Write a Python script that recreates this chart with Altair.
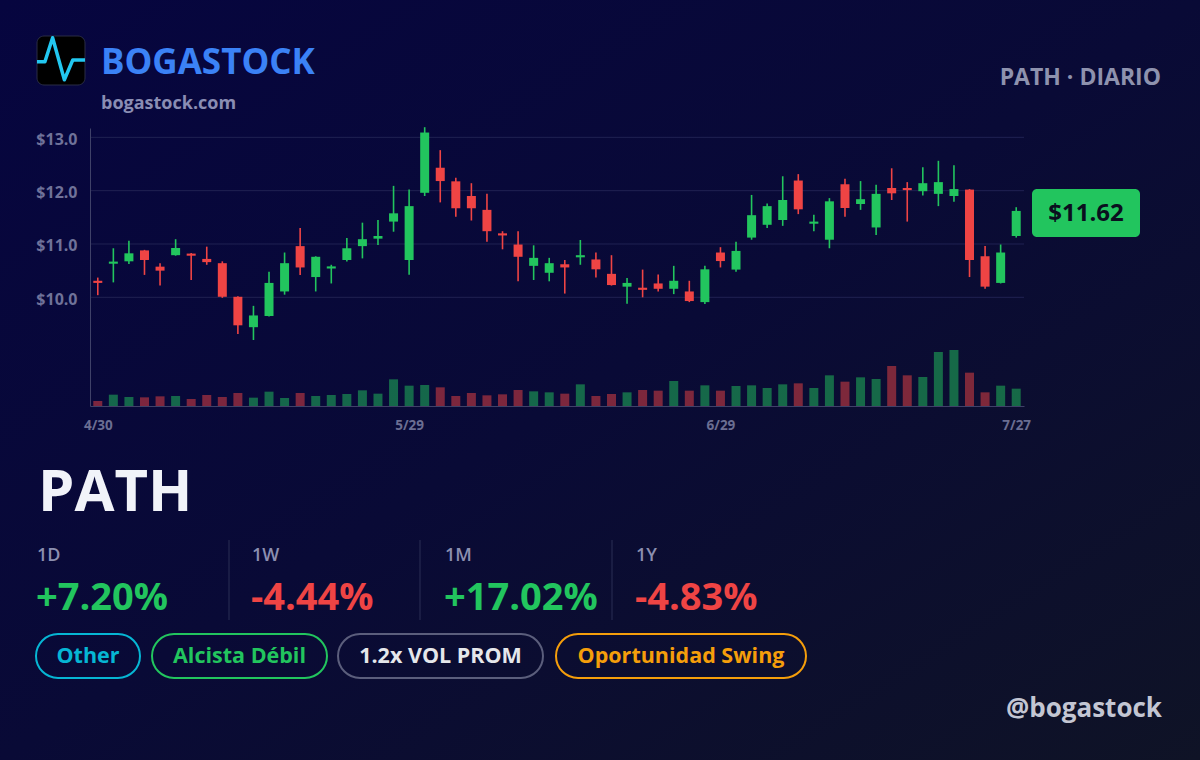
import altair as alt
import pandas as pd

# ---------------- data ----------------
date_idx = [0, 20, 40, 59]
date_labels = ["4/30", "5/29", "6/29", "7/27"]

opens = [10.31, 10.63, 10.675, 10.88, 10.575, 10.79, 10.82, 10.72, 10.64, 10.01, 9.44, 9.65,
         10.11, 10.96, 10.38, 10.54, 10.70, 10.96, 11.10, 11.42, 10.70, 11.96, 12.43, 12.175, 11.90, 11.64, 11.20, 10.99,
         10.59, 10.46, 10.62, 10.75, 10.71, 10.44, 10.20, 10.18, 10.26, 10.16, 10.11, 9.91, 10.84, 10.52, 11.12,
         11.36, 11.45, 12.19, 11.38, 11.08, 12.12, 11.75, 11.31, 12.05, 12.05, 11.99, 11.94, 11.90, 12.02, 10.77, 10.27, 11.15]
closes = [10.27, 10.67, 10.825, 10.70, 10.50, 10.925, 10.78, 10.66, 10.01, 9.475, 9.66, 10.27,
          10.64, 10.56, 10.76, 10.58, 10.92, 11.09, 11.15, 11.575, 11.71, 13.09, 12.18, 11.67, 11.67, 11.24, 11.16, 10.76,
          10.74, 10.64, 10.56, 10.79, 10.525, 10.23, 10.27, 10.14, 10.16, 10.31, 9.93, 10.525, 10.68, 10.87, 11.54,
          11.71, 11.825, 11.65, 11.42, 11.80, 11.675, 11.84, 11.94, 11.95, 12.01, 12.14, 12.16, 12.03, 10.70, 10.20, 10.84, 11.62]
highs = [10.37, 10.92, 11.06, 10.89, 10.64, 11.09, 10.83, 10.95, 10.675, 10.02, 9.84, 10.48,
         10.84, 11.30, 10.77, 10.61, 11.11, 11.40, 11.45, 12.09, 12.02, 13.19, 12.76, 12.24, 12.14, 11.94, 11.24, 11.24,
         10.975, 10.74, 10.70, 11.075, 10.84, 10.79, 10.36, 10.52, 10.43, 10.59, 10.31, 10.59, 10.94, 11.04, 11.92,
         11.76, 12.27, 12.31, 11.55, 11.86, 12.225, 12.18, 12.11, 12.42, 12.16, 12.44, 12.56, 12.475, 12.03, 10.96, 10.99, 11.69]
lows = [10.04, 10.28, 10.625, 10.42, 10.22, 10.78, 10.325, 10.61, 9.99, 9.31, 9.20, 9.64,
        10.05, 10.42, 10.11, 10.26, 10.67, 10.73, 10.98, 11.23, 10.425, 11.90, 11.78, 11.51, 11.44, 11.04, 10.90, 10.30,
        10.325, 10.30, 10.07, 10.61, 10.37, 10.22, 9.88, 10.00, 10.11, 10.06, 9.91, 9.875, 10.56, 10.48, 11.08,
        11.30, 11.34, 11.56, 11.24, 10.92, 11.51, 11.64, 11.17, 11.825, 11.42, 11.91, 11.71, 11.79, 10.38, 10.16, 10.26, 11.12]
volumes = [1.5, 3.4, 2.7, 2.6, 2.9, 3.0, 2.1, 3.3, 2.7, 3.9, 2.5, 4.3,
           2.4, 3.9, 3.0, 3.3, 3.6, 4.7, 3.7, 8.0, 6.1, 6.3, 5.6, 3.0, 3.9, 3.2, 3.5, 4.8,
           4.4, 4.1, 3.7, 6.5, 3.0, 3.6, 4.1, 4.8, 4.6, 7.5, 4.6, 6.2, 4.6, 6.0, 6.2,
           5.4, 6.5, 6.8, 5.4, 9.2, 7.3, 8.6, 8.1, 12.0, 9.2, 8.7, 16.2, 16.8, 10.0, 4.1, 6.1, 5.2]
grid_levels = [10, 11, 12, 13]

ticker = "PATH"
brand = "BOGASTOCK"
site = "bogastock.com"
handle = "@bogastock"
period_label = "PATH · DIARIO"
stat_labels = ["1D", "1W", "1M", "1Y"]
stat_values = [7.20, -4.44, 17.02, -4.83]
pill_labels = ["Other", "Alcista Débil", "1.2x VOL PROM", "Oportunidad Swing"]

# ---------------- style / layout ----------------
FONT = "Open Sans"
GREEN = "#22c55e"
RED = "#ef4444"
OX, OY = 90, 128
W, H = 934, 278

pill_text_colors = ["#06b6d4", GREEN, "#e5e7eb", "#f59e0b"]
pill_border_colors = ["#06b6d4", GREEN, "#5b5e7c", "#f59e0b"]
pill_x0 = [36, 152, 338, 556]
pill_x1 = [140, 327, 543, 806]
stat_x = [37, 252, 445, 636]
divider_x = [229, 420, 612]

df = pd.DataFrame({"i": list(range(len(opens))), "o": opens, "h": highs,
                   "l": lows, "c": closes, "v": volumes})
one = pd.DataFrame({"k": [0]})


def px(x):
    return alt.value(x - OX)


def py(y):
    return alt.value(y - OY)


xs = alt.Scale(domain=[-0.5, 59.5], nice=False, zero=False, padding=0)
ps = alt.Scale(domain=[7.962, 13.175], nice=False, zero=False, padding=0)
vs = alt.Scale(domain=[0, 83.4], nice=False, zero=True, padding=0)

label_expr = ""
for k, lab in zip(date_idx[:-1], date_labels[:-1]):
    label_expr += f"datum.value == {k} ? '{lab}' : "
label_expr += f"'{date_labels[-1]}'"

x_axis = alt.Axis(values=date_idx, labelExpr=label_expr, labelFont=FONT, labelFontWeight="bold",
                  labelFontSize=13.5, labelColor="#6b6e92", labelPadding=12, ticks=False, grid=False,
                  domainColor="#3f4168", domainWidth=1, title=None, zindex=1, labelFlush=False)
y_axis = alt.Axis(values=grid_levels, format="$.1f", labelFont=FONT, labelFontWeight="bold",
                  labelFontSize=16, labelColor="#6f7299", labelPadding=13, labelOffset=2, ticks=False,
                  grid=False, domainColor="#3f4168", domainWidth=1, title=None, zindex=1)

color_cond = alt.condition("datum.c >= datum.o", alt.value(GREEN), alt.value(RED))

bg = alt.Chart(one).mark_rect(
    color=alt.Gradient(gradient="linear",
                       stops=[alt.GradientStop(color="#06053f", offset=0),
                              alt.GradientStop(color="#090a36", offset=0.5),
                              alt.GradientStop(color="#0f1326", offset=1)],
                       x1=0, y1=0, x2=1, y2=1)
).encode(x=px(0), x2=px(1200), y=py(0), y2=py(760))

base = alt.Chart(df)
vol = base.mark_bar(width=9, opacity=0.5).encode(
    x=alt.X("i:Q", scale=xs, axis=x_axis),
    y=alt.Y("v:Q", scale=vs, axis=None),
    color=color_cond)

grid = alt.Chart(pd.DataFrame({"p": grid_levels})).mark_rule(color="#202252", strokeWidth=1).encode(
    y=alt.Y("p:Q", scale=ps, axis=y_axis), x=alt.value(0), x2=alt.value(W))
wick = base.mark_rule(strokeWidth=1.6).encode(
    x=alt.X("i:Q", scale=xs, axis=x_axis),
    y=alt.Y("l:Q", scale=ps, axis=y_axis), y2="h:Q", color=color_cond)
body = base.mark_bar(width=9).encode(
    x=alt.X("i:Q", scale=xs, axis=x_axis),
    y=alt.Y("o:Q", scale=ps, axis=y_axis), y2="c:Q", color=color_cond)
price = alt.layer(grid, wick, body)


def txt(s, x, y, size, color, weight="bold", align="left", baseline="alphabetic"):
    return alt.Chart(one).mark_text(text=s, fontSize=size, color=color, fontWeight=weight,
                                    align=align, baseline=baseline, font=FONT).encode(x=px(x), y=py(y))


def box(x0, y0, x1, y1, **kw):
    return alt.Chart(one).mark_rect(**kw).encode(x=px(x0), x2=px(x1), y=py(y0), y2=py(y1))


deco = []
# logo
deco.append(box(37, 36, 85, 85, fill="#000000", cornerRadius=7, stroke="#2a2d45", strokeWidth=1))
deco.append(alt.Chart(one).mark_point(
    shape="M-1,0.05L-0.67,0.05L-0.35,-0.95L0.14,0.8L0.49,-0.02L1,-0.02",
    size=2304, filled=False, stroke="#22c7f0", strokeWidth=3.5, opacity=1, strokeJoin="round"
).encode(x=px(61), y=py(60.5)))
deco.append(txt(brand, 101, 74, 35, "#3b82f6"))
deco.append(txt(site, 101, 109, 18, "#8a8db3"))
deco.append(txt(period_label, 1161, 85, 23, "#8e92ae", align="right"))
# price badge
deco.append(box(1032, 189, 1140, 237, fill=GREEN, cornerRadius=5))
deco.append(txt(f"${closes[-1]:.2f}", 1086, 214, 24, "#0a0f1e", align="center", baseline="middle"))
# ticker
deco.append(txt(ticker, 38, 511, 58, "#f1f3f9"))
# stats
for i, (lab, val) in enumerate(zip(stat_labels, stat_values)):
    deco.append(txt(lab, stat_x[i], 561, 18, "#8c8fb0", weight=600))
    deco.append(txt(f"{val:+.2f}%", stat_x[i] - 1, 610, 38, GREEN if val >= 0 else RED))
for dx in divider_x:
    deco.append(alt.Chart(one).mark_rule(color="#2b2e55", strokeWidth=1).encode(
        x=px(dx), y=py(540), y2=py(620)))
# pills
for i, lab in enumerate(pill_labels):
    deco.append(box(pill_x0[i], 634, pill_x1[i], 678, fill="transparent",
                    stroke=pill_border_colors[i], strokeWidth=2, cornerRadius=22))
    deco.append(txt(lab, (pill_x0[i] + pill_x1[i]) / 2, 657, 21.5, pill_text_colors[i],
                    align="center", baseline="middle"))
deco.append(txt(handle, 1162, 717, 26, "#c3c6d3", align="right"))

chart = alt.layer(bg, vol, price, *deco).resolve_scale(y="independent").properties(
    width=W, height=H,
    padding={"left": OX, "top": OY, "right": 1200 - OX - W, "bottom": 760 - OY - H},
    autosize=alt.AutoSizeParams(type="none"),
    background="#07063c",
).configure_view(stroke=None)

chart.save("out.html", embed_options={"renderer": "svg", "actions": False})
